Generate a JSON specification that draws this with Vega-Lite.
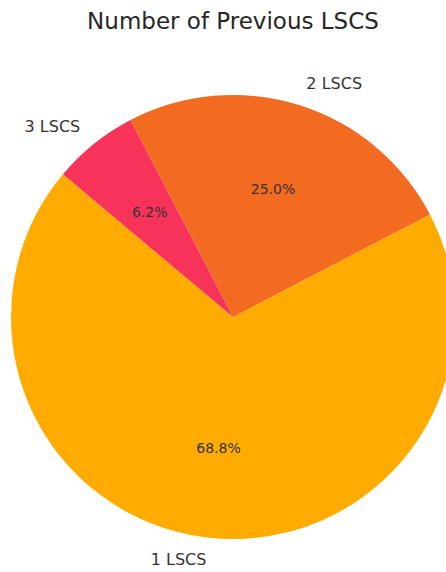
{
  "$schema": "https://vega.github.io/schema/vega-lite/v6.json",
  "width": 426,
  "height": 510,
  "autosize": {"type": "none"},
  "padding": {"left": 20, "top": 62, "right": 0, "bottom": 0},
  "background": "white",
  "title": {
    "text": "Number of Previous LSCS",
    "font": "DejaVu Sans",
    "fontSize": 23,
    "fontWeight": "normal",
    "color": "#262626",
    "anchor": "middle",
    "offset": 28
  },
  "data": {
    "values": [
      {"category": "1 LSCS", "count": 11, "pct": "68.8%"},
      {"category": "2 LSCS", "count": 4, "pct": "25.0%"},
      {"category": "3 LSCS", "count": 1, "pct": "6.2%"}
    ]
  },
  "encoding": {
    "theta": {"field": "count", "type": "quantitative", "stack": true, "scale": {"range": [-0.87266, 5.41052]}},
    "order": {"field": "category", "sort": "descending"}
  },
  "layer": [
    {
      "mark": {"type": "arc", "outerRadius": 222},
      "encoding": {
        "color": {
          "field": "category",
          "type": "nominal",
          "scale": {"domain": ["1 LSCS", "2 LSCS", "3 LSCS"], "range": ["#FFAB00", "#F26B21", "#F7335A"]},
          "legend": null
        }
      }
    },
    {
      "mark": {"type": "text", "radius": 133, "font": "DejaVu Sans", "fontSize": 14, "color": "#333333"},
      "encoding": {"text": {"field": "pct"}}
    },
    {
      "mark": {"type": "text", "radius": 244, "font": "DejaVu Sans", "fontSize": 16, "color": "#333333", "align": "right", "baseline": "middle"},
      "encoding": {
        "text": {"field": "category"},
        "opacity": {"condition": {"test": "datum.category === '2 LSCS'", "value": 0}, "value": 1}
      }
    },
    {
      "mark": {"type": "text", "radius": 244, "font": "DejaVu Sans", "fontSize": 16, "color": "#333333", "align": "left", "baseline": "middle"},
      "encoding": {
        "text": {"field": "category"},
        "opacity": {"condition": {"test": "datum.category === '2 LSCS'", "value": 1}, "value": 0}
      }
    }
  ]
}
